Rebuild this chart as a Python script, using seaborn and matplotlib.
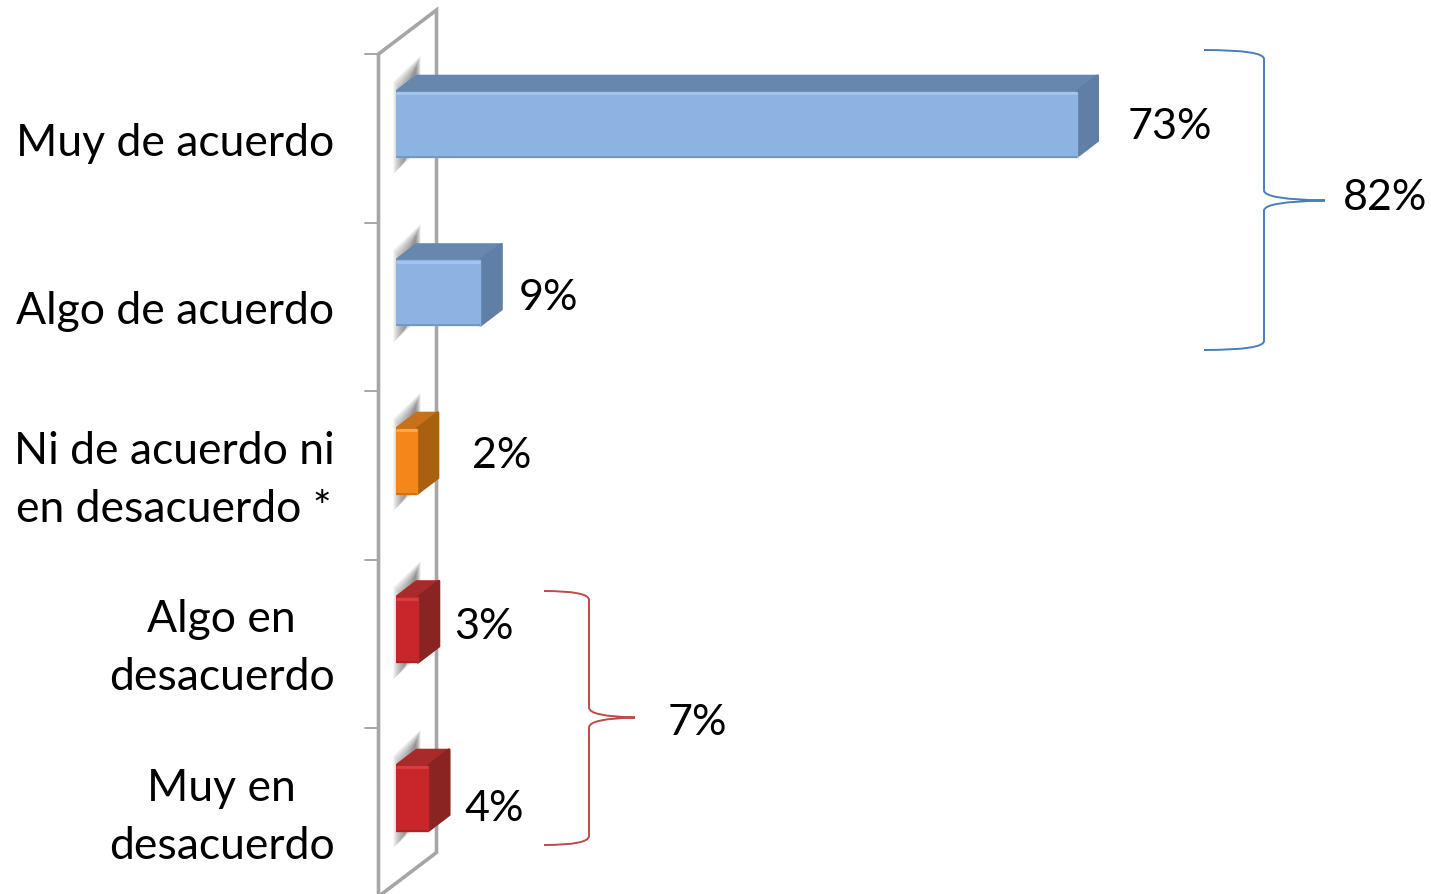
"""
Agreement bars with a fake 3D look, wall and braces
"""
import matplotlib
matplotlib.use("Agg")

import matplotlib.pyplot as plt
import pandas as pd
import seaborn as sns
from matplotlib.patches import PathPatch, Polygon
from matplotlib.path import Path

categories = ["Muy de acuerdo", "Algo de acuerdo", "Ni de acuerdo ni\nen desacuerdo *",
              "Algo en\ndesacuerdo", "Muy en\ndesacuerdo"]
values = [73, 9.1, 2.3, 2.4, 3.5]
value_labels = ["73%", "9%", "2%", "3%", "4%"]
groups = ["agree", "agree", "neutral", "disagree", "disagree"]

# label offsets from the bar end, in pixels
label_dx = [51, 38, 55, 36, 36]
label_dy = [-2, -4, 6, 4, -10]

front = {"agree": "#8DB3E2", "neutral": "#F5871A", "disagree": "#C8262B"}
top = {"agree": "#6787AE", "neutral": "#C8701A", "disagree": "#A82A2A"}
side = {"agree": "#5F7FA6", "neutral": "#A9600F", "disagree": "#8A2422"}
shine = {"agree": "#A4C6EE", "neutral": "#FFA94D", "disagree": "#D8403F"}

W, H = 1431, 895
PX_X = 9.33     # pixels per percent
PX_Y = 168.5    # pixels per category
DX = 21 / PX_X
DY = 16 / PX_Y
WALL = "#A6A6A6"
LEFT = 395.5
TOP = 41

sns.set_theme(style="white")
plt.rcParams["font.family"] = ["Lato", "DejaVu Sans"]

df = pd.DataFrame({"cat": categories, "val": values, "grp": groups})

fig = plt.figure(figsize=(W / 100, H / 100), dpi=100)
ax = fig.add_axes([LEFT / W, 1 - (TOP + 842.5) / H, (W - LEFT) / W, 842.5 / H])
sns.barplot(data=df, y="cat", x="val", hue="grp", palette=front, dodge=False, saturation=1,
            width=65 / PX_Y, legend=False, ax=ax, zorder=5)
ax.set_xlim(0, (W - LEFT) / PX_X)
ax.set_ylim(4.5, -0.5)
ax.set_xlabel("")
ax.set_ylabel("")
ax.set_xticks([])
ax.set_yticks([])
sns.despine(ax=ax, left=True, bottom=True)
ax.patch.set_alpha(0)


def to_x(px):
    return px / PX_X


def to_y(px):
    return px / PX_Y


# wall behind the bars
wall_x0, wall_x1 = to_x(-17), to_x(41)
wall_top = -0.5 + to_y(14)
wall_bot = 4.5 + to_y(14)
wall_rise = to_y(44)
wall_kw = dict(color=WALL, lw=2.6, clip_on=False, zorder=1, solid_joinstyle="miter")
ax.plot([wall_x0, wall_x0, wall_x1, wall_x1, wall_x0],
        [wall_bot, wall_top, wall_top - wall_rise, wall_bot - wall_rise, wall_bot], **wall_kw)
for i in range(5):
    ax.plot([wall_x0 - to_x(14), wall_x0], [wall_top + i, wall_top + i], color=WALL, lw=1.4,
            clip_on=False, zorder=1)

bars = sorted([p for p in ax.patches if p.get_height() > 0], key=lambda p: p.get_y())
for i, bar in enumerate(bars):
    x0, w = bar.get_x(), bar.get_width()
    y0, h = bar.get_y(), bar.get_height()
    x1, y1 = x0 + w, y0 + h
    g = groups[i]

    # soft shadow on the wall
    for k in range(8):
        s = k * 1.6
        shadow = [(to_x(-2 + s), y0 + to_y(-10 + s)), (to_x(25 - s * .4), y0 + to_y(-36 + s)),
                  (to_x(25 - s * .4), y1 + to_y(-8 - s)), (to_x(-2 + s), y1 + to_y(17 - s))]
        ax.add_patch(Polygon(shadow, closed=True, fc="#555555", ec="none", alpha=0.11,
                             zorder=2, clip_on=False))

    # depth faces
    ax.add_patch(Polygon([(x0, y0), (x0 + DX, y0 - DY), (x1 + DX, y0 - DY), (x1, y0)],
                         closed=True, fc=top[g], ec=top[g], lw=1.5, joinstyle="round", zorder=4))
    ax.add_patch(Polygon([(x1, y0), (x1 + DX, y0 - DY), (x1 + DX, y1 - DY), (x1, y1)],
                         closed=True, fc=side[g], ec=side[g], lw=2, joinstyle="round", zorder=4))

    bar.set_edgecolor(front[g])
    bar.set_linewidth(1)
    ax.plot([x0, x1], [y0 + to_y(1.5), y0 + to_y(1.5)], color=shine[g], lw=2, zorder=6,
            solid_capstyle="butt")
    ax.plot([x0, x1], [y1, y1], color=side[g], lw=1.2, alpha=.6, zorder=6, solid_capstyle="butt")

    ax.annotate(value_labels[i], xy=(x1, i), xytext=(label_dx[i] * .72, label_dy[i] * .72),
                textcoords="offset points", ha="left", va="center", fontsize=31, color="black",
                annotation_clip=False, zorder=7)
    ax.text(to_x(-61), i + to_y(18), categories[i], ha="right", va="center", ma="center",
            fontsize=32, linespacing=1.52, color="black", clip_on=False)


def px_xy(x, y):
    return x / W, 1 - y / H


def brace(x0, x1, x2, y0, ym, y1, color):
    codes = [Path.MOVETO, Path.CURVE3, Path.CURVE3, Path.LINETO, Path.CURVE3, Path.CURVE3,
             Path.CURVE3, Path.CURVE3, Path.LINETO, Path.CURVE3, Path.CURVE3]
    pts = [(x0, y0), (x1, y0), (x1, y0 + 9), (x1, ym - 10), (x1, ym - 1), (x2, ym),
           (x1, ym + 1), (x1, ym + 10), (x1, y1 - 9), (x1, y1), (x0, y1)]
    fig.add_artist(PathPatch(Path([px_xy(*p) for p in pts], codes), fc="none", ec=color, lw=1.4,
                             transform=fig.transFigure))


brace(1204, 1264, 1325, 51, 201.5, 351, "#4A7EBB")
brace(544, 589, 635, 592, 718.5, 846, "#BE4B48")
fig.text(*px_xy(1343, 198), "82%", ha="left", va="center", fontsize=31, color="black")
fig.text(*px_xy(668, 723), "7%", ha="left", va="center", fontsize=31, color="black")

plt.savefig("out.png", dpi=100, facecolor="white")
